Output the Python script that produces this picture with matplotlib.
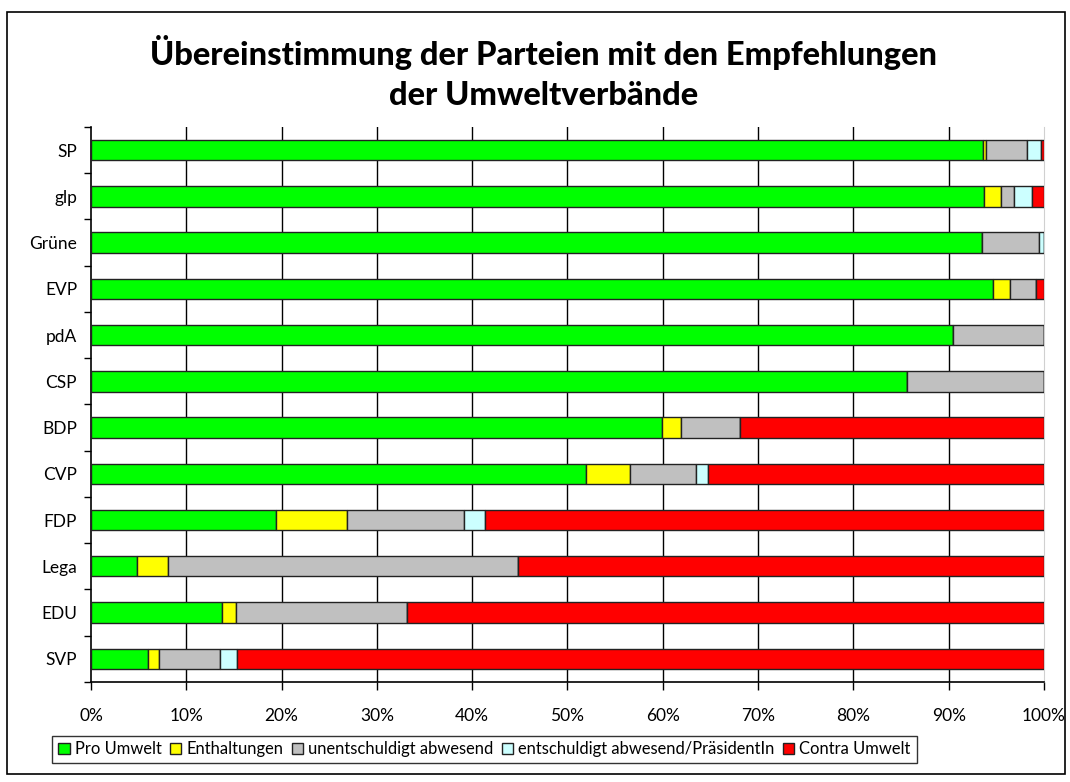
import matplotlib
matplotlib.use("Agg")
import matplotlib.pyplot as plt
import numpy as np
from matplotlib.patches import Patch, Rectangle

# --- data (percent of votes) ---
parties = ["SP", "glp", "Grüne", "EVP", "pdA", "CSP", "BDP", "CVP", "FDP", "Lega", "EDU", "SVP"]
pro_umwelt = [93.6, 93.7, 93.5, 94.7, 90.5, 85.6, 59.9, 51.9, 19.4, 4.8, 13.8, 6.0]
enthaltungen = [0.3, 1.8, 0.0, 1.7, 0.0, 0.0, 2.0, 4.7, 7.5, 3.3, 1.4, 1.1]
unentschuldigt = [4.3, 1.3, 6.0, 2.8, 9.5, 14.4, 6.2, 6.9, 12.2, 36.7, 18.0, 6.4]
entschuldigt = [1.5, 1.9, 0.5, 0.0, 0.0, 0.0, 0.0, 1.2, 2.2, 0.0, 0.0, 1.8]
contra_umwelt = [0.3, 1.3, 0.0, 0.8, 0.0, 0.0, 31.9, 35.3, 58.7, 55.2, 66.8, 84.7]

series = [
    ("Pro Umwelt", pro_umwelt, "#00ff00"),
    ("Enthaltungen", enthaltungen, "#ffff00"),
    ("unentschuldigt abwesend", unentschuldigt, "#c0c0c0"),
    ("entschuldigt abwesend/PräsidentIn", entschuldigt, "#ccffff"),
    ("Contra Umwelt", contra_umwelt, "#ff0000"),
]

plt.rcParams["font.family"] = ["Lato", "DejaVu Sans"]

fig = plt.figure(figsize=(10.7, 7.82), dpi=100)
ax = fig.add_axes([0.085, 0.128, 0.8907, 0.7096])

y = np.arange(len(parties))
left = np.zeros(len(parties))
for label, vals, color in series:
    vals = np.asarray(vals)
    ax.barh(y, vals, left=left, height=0.44, color=color,
            edgecolor="#222222", linewidth=1.0, zorder=3)
    left += vals

ax.set_xlim(0, 100)
ax.set_ylim(len(parties) - 0.5, -0.5)

# x axis: percent ticks, vertical black gridlines
ax.set_xticks(np.arange(0, 101, 10))
ax.set_xticklabels([f"{v}%" for v in range(0, 101, 10)], fontsize=12.5)
ax.tick_params(axis="x", direction="out", length=6, width=1, pad=13)
for v in range(10, 100, 10):
    ax.axvline(v, color="black", lw=1.0, zorder=1)

# y axis: labels at bar centers, tick marks between categories
ax.set_yticks(y)
ax.set_yticklabels(parties, fontsize=12.5)
ax.tick_params(axis="y", length=0, pad=10)
ax.set_yticks(np.arange(-0.5, len(parties), 1), minor=True)
ax.tick_params(axis="y", which="minor", direction="out", length=5, width=1)

ax.spines["top"].set_visible(False)
ax.spines["right"].set_color("#d0d0d0")
ax.spines["left"].set_linewidth(1.2)
ax.spines["bottom"].set_linewidth(1.2)

fig.text(0.508, 0.907, "Übereinstimmung der Parteien mit den Empfehlungen\nder Umweltverbände",
         ha="center", va="center", fontsize=23.5, fontweight="black", linespacing=1.45)

handles = [Patch(facecolor=c, edgecolor="#222222", lw=1.0, label=l) for l, _, c in series]
leg = fig.legend(handles=handles, loc="lower left", bbox_to_anchor=(0.049, 0.024),
                 ncol=5, fontsize=11.9, frameon=True, fancybox=False,
                 handlelength=0.7, handleheight=0.7, handletextpad=0.3,
                 columnspacing=0.5, borderpad=0.35, borderaxespad=0)
leg.get_frame().set_edgecolor("black")
leg.get_frame().set_linewidth(1.0)

# outer chart frame
fig.patches.append(Rectangle((0.007, 0.01), 0.988, 0.975, transform=fig.transFigure,
                             fill=False, edgecolor="black", lw=1.2))

fig.savefig("out.png", dpi=100)
